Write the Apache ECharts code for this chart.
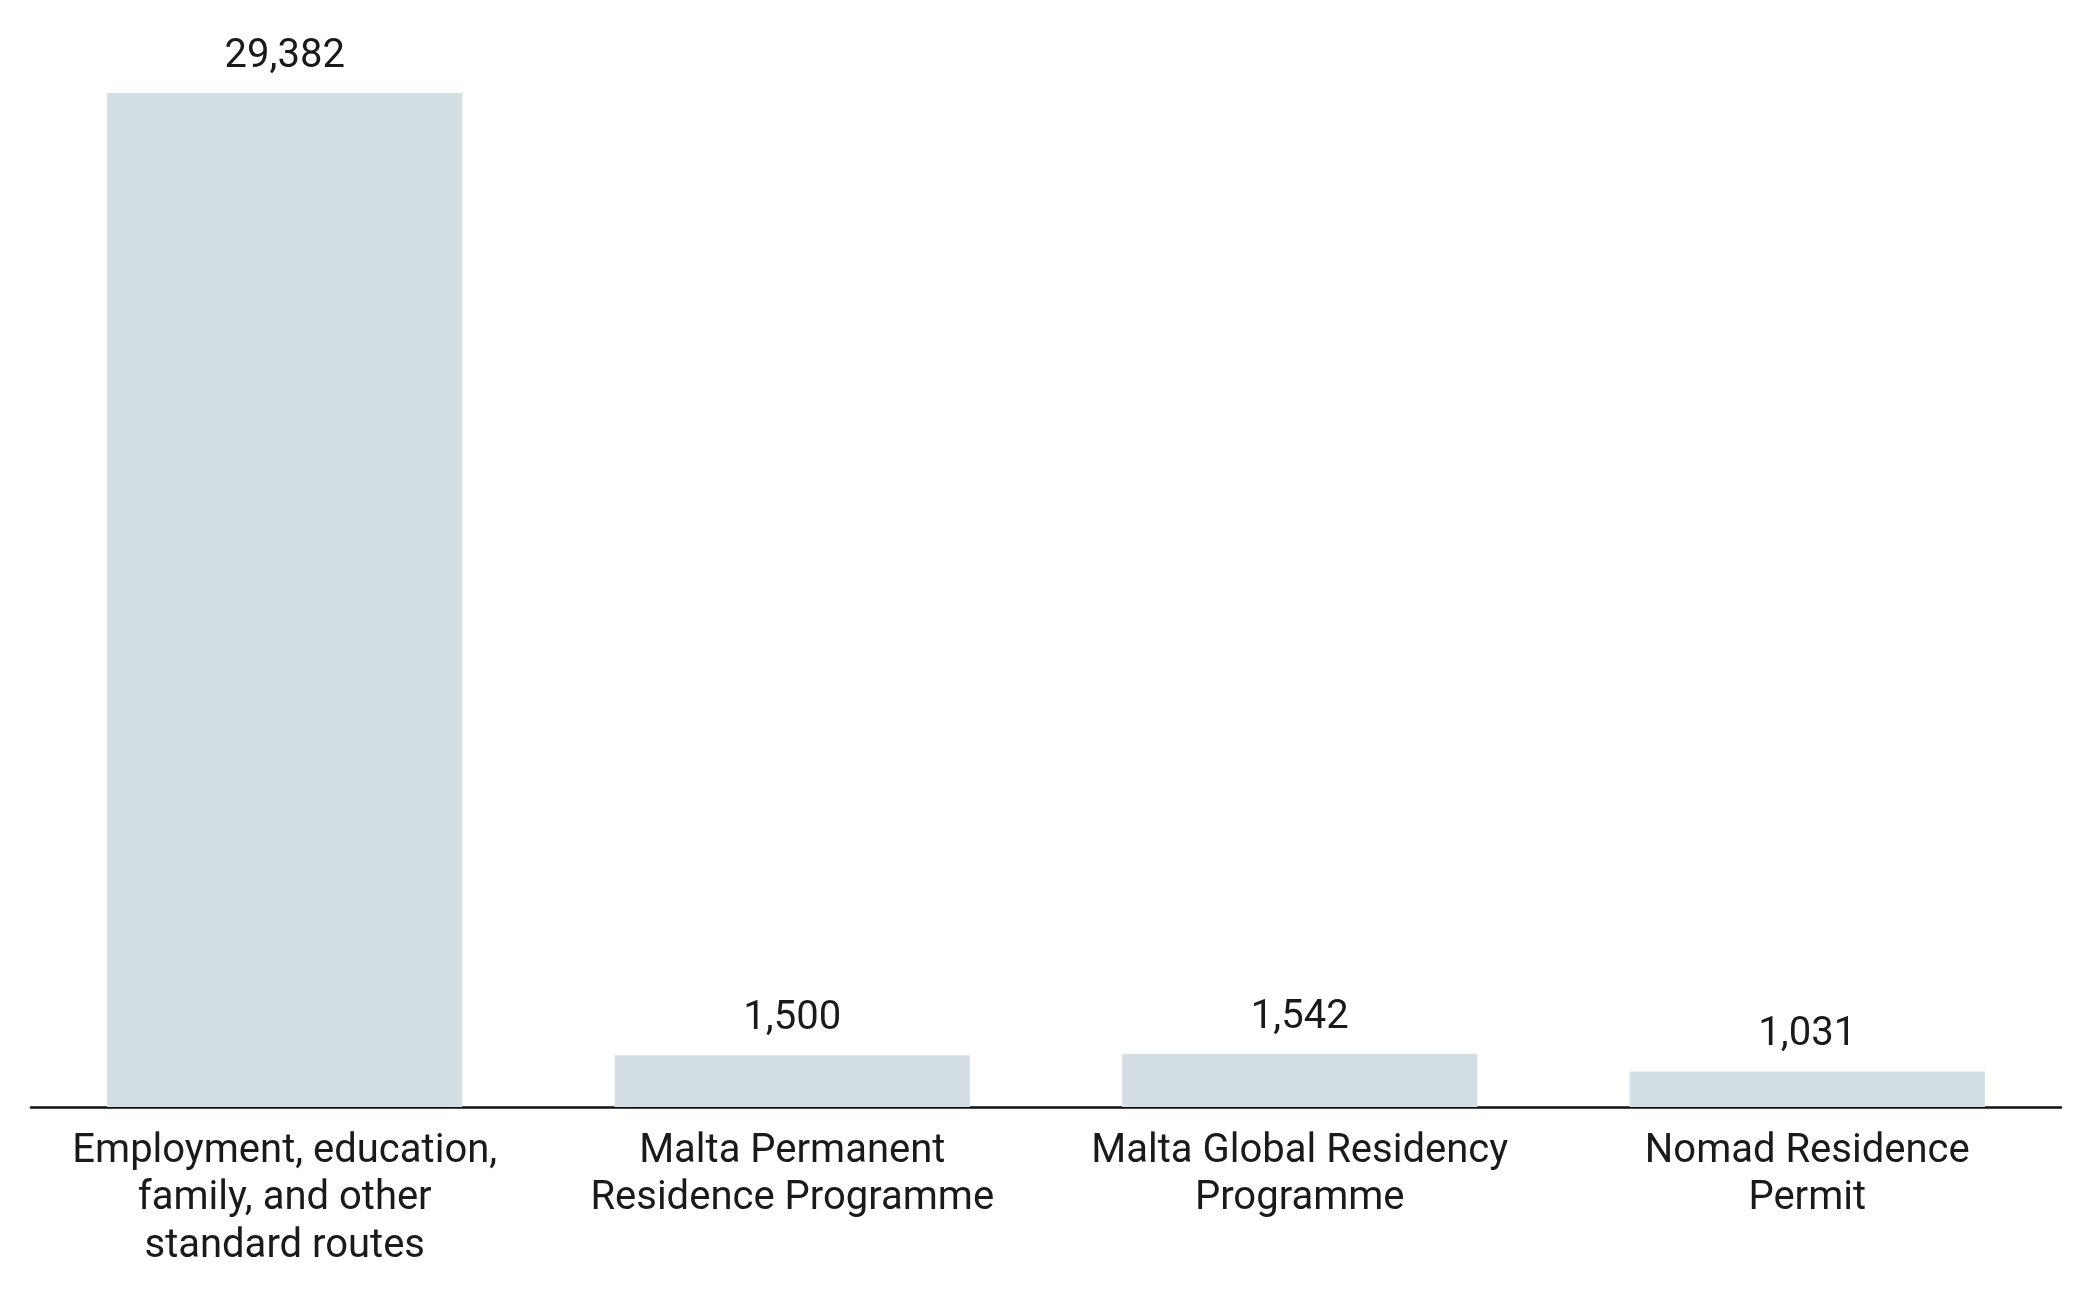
<!DOCTYPE html>
<html><head><meta charset="utf-8">
<script src="https://cdn.jsdelivr.net/npm/echarts@6/dist/echarts.min.js"></script>
<style>html,body{margin:0;padding:0;background:#fff}#c{width:2092px;height:1310px}</style>
</head><body><div id="c"></div>
<script>
const categories = [
  "Employment, education,\nfamily, and other\nstandard routes",
  "Malta Permanent\nResidence Programme",
  "Malta Global Residency\nProgramme",
  "Nomad Residence\nPermit"
];
const values = [29382, 1500, 1542, 1031];

const chart = echarts.init(document.getElementById('c'));
chart.setOption({
  animation: false,
  grid: { left: 31, right: 31, top: 93, bottom: 203, containLabel: false },
  xAxis: {
    type: 'category',
    data: categories,
    axisLine: { lineStyle: { color: '#111', width: 2.5 } },
    axisTick: { show: false },
    axisLabel: { interval: 0, color: '#1a1a1a', fontFamily: 'Roboto', fontSize: 40, lineHeight: 47.5, margin: 21 }
  },
  yAxis: {
    type: 'value', min: 0, max: 29382,
    show: false, splitLine: { show: false }
  },
  series: [{
    type: 'bar',
    data: values,
    barWidth: '70%',
    itemStyle: { color: '#d3dee5' },
    label: {
      show: true, position: 'top', distance: 16,
      color: '#1a1a1a', fontFamily: 'Roboto', fontSize: 40,
      formatter: p => p.value.toLocaleString('en-US')
    }
  }]
});
</script></body></html>
